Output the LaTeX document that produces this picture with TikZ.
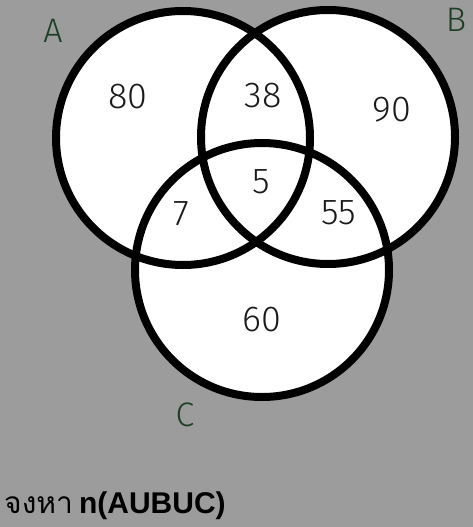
\documentclass[tikz,border=0pt]{standalone}
\usepackage{fontspec}
\setmainfont{Fira Sans Light}
\newfontfamily\thaifont[Script=Thai]{Loma}
\newfontfamily\boldlat{Liberation Sans}
\definecolor{bg}{HTML}{9C9C9C}
\definecolor{lbl}{HTML}{1A3F24}
\definecolor{num}{HTML}{1A1A1A}
\begin{document}
\begin{tikzpicture}[x=1pt,y=-1pt,
  setcircle/.style={draw=black,line width=8pt},
  numlabel/.style={text=num,font=\fontsize{36}{36}\selectfont,inner sep=0pt},
  setname/.style={text=lbl,font=\fontsize{34}{34}\selectfont,inner sep=0pt}]
\fill[bg] (0,0) rectangle (473,527);
\useasboundingbox (0,0) rectangle (473,527);
\coordinate (ca) at (183,138);
\coordinate (cb) at (328,137);
\coordinate (cc) at (262,270);
\fill[white] (ca) circle (127);
\fill[white] (cb) circle (127);
\fill[white] (cc) circle (127);
\draw[setcircle] (ca) circle (127);
\draw[setcircle] (cb) circle (127);
\draw[setcircle] (cc) circle (127);
\node[setname] (la) at (53,31) {A};
\node[setname] (lb) at (456,20) {B};
\node[setname] (lc) at (185,415) {C};
\node[numlabel] (n80) at (128,97) {80};
\node[numlabel] (n38) at (263,96) {38};
\node[numlabel] (n90) at (392,110) {90};
\node[numlabel] (n7) at (181,214) {7};
\node[numlabel] (n5) at (261,182) {5};
\node[numlabel] (n55) at (339,213) {55};
\node[numlabel] (n60) at (262,320) {60};
\node[anchor=base west,inner sep=0pt] (q) at (4,513) {\fontsize{30}{30}\selectfont\thaifont จงหา\hspace{6pt}\boldlat\bfseries n(AUBUC)};
\end{tikzpicture}
\end{document}
